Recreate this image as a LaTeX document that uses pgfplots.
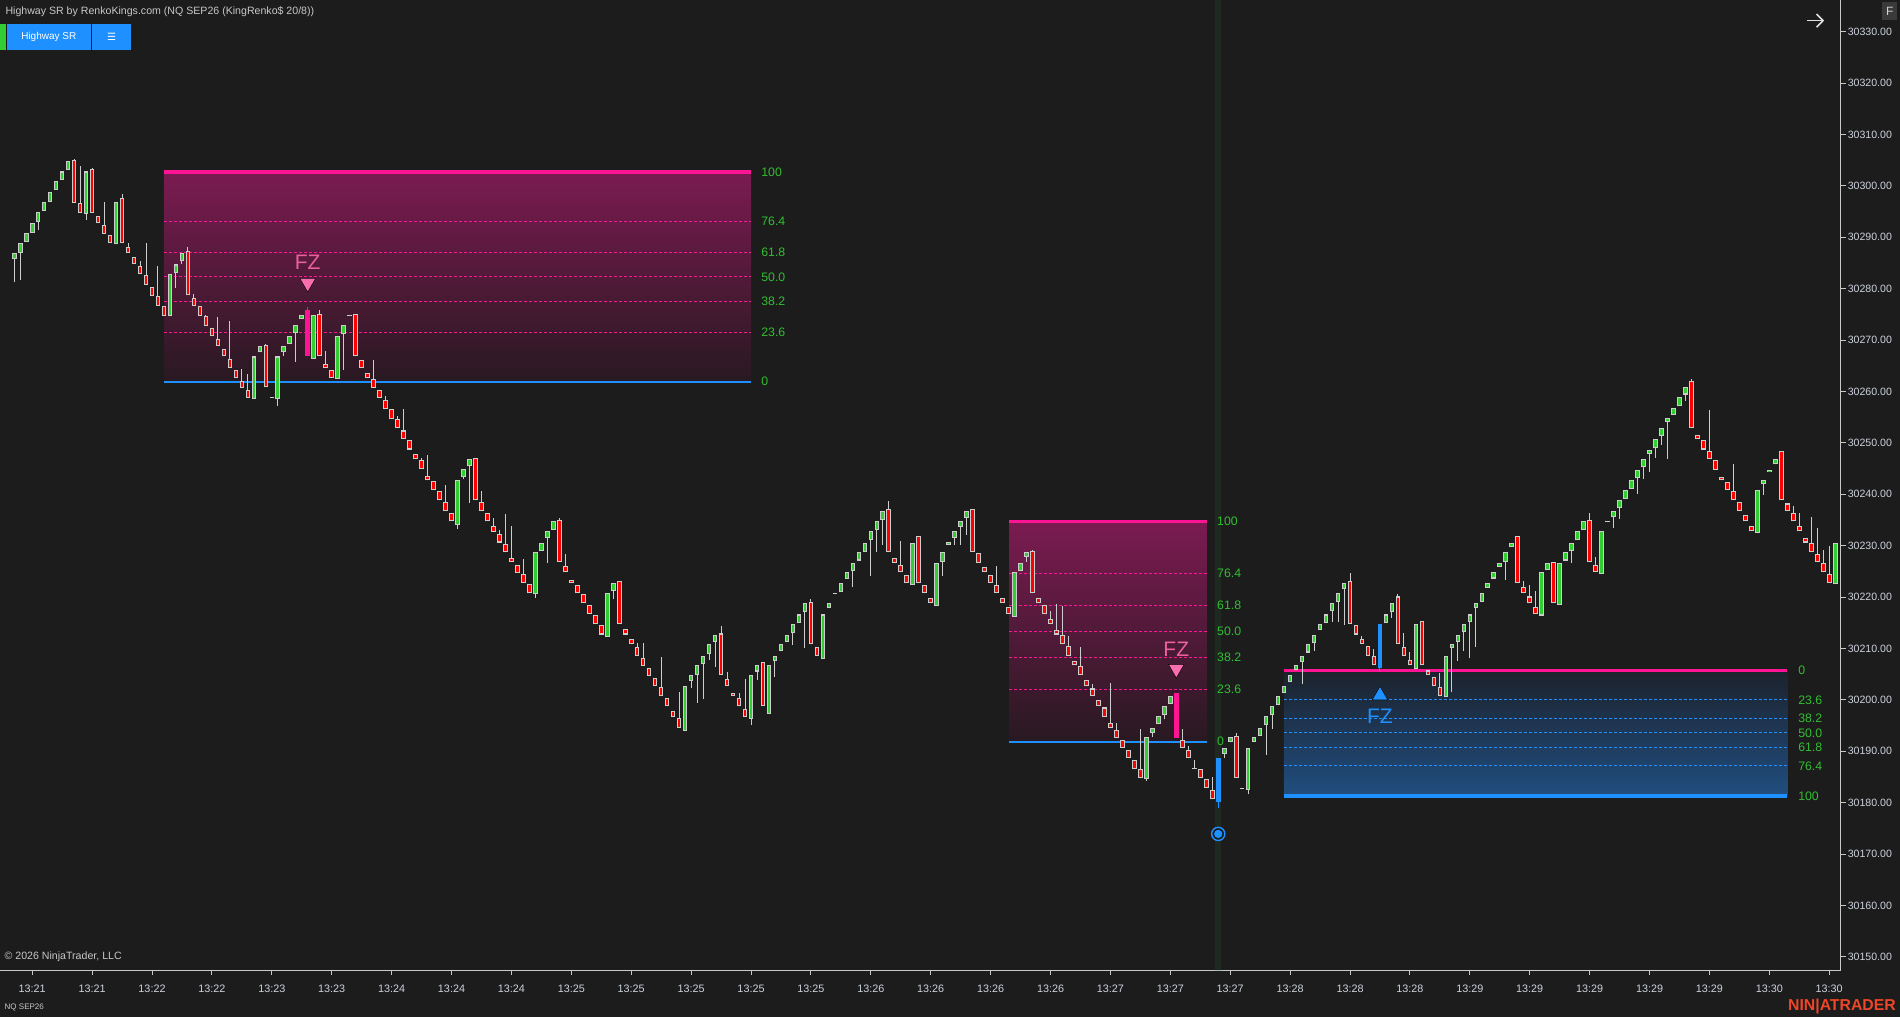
\documentclass[border=0pt]{standalone}
\usepackage{fontspec}
\setmainfont{Liberation Sans}
\newfontfamily\dejavu{DejaVu Sans}
\usepackage{pgfplots}
\usepackage{pgfplotstable}
\pgfplotsset{compat=1.18}

\definecolor{bg}{RGB}{28,28,28}
\definecolor{band}{RGB}{30,42,31}
\definecolor{gbar}{RGB}{50,205,50}
\definecolor{rbar}{RGB}{255,0,0}
\definecolor{bord}{RGB}{205,205,205}
\definecolor{dpink}{RGB}{255,20,147}
\definecolor{dblue}{RGB}{30,144,255}
\definecolor{lvl}{RGB}{50,190,50}
\definecolor{fzpink}{RGB}{236,96,160}
\definecolor{tripink}{RGB}{248,110,175}
\definecolor{axisc}{RGB}{200,200,200}
\definecolor{tickc}{RGB}{205,210,220}
\definecolor{titlec}{RGB}{200,200,200}
\definecolor{ninja}{RGB}{238,70,40}
\definecolor{bAtop}{RGB}{123,27,81}
\definecolor{bAmid}{RGB}{100,27,68}
\definecolor{bAbot}{RGB}{40,25,33}
\definecolor{bCtop}{RGB}{28,34,44}
\definecolor{bCmid}{RGB}{31,70,113}
\definecolor{bCbot}{RGB}{32,78,128}
\definecolor{fbox}{RGB}{58,58,58}

% x = bar index, lo/hi = body, wl/wh = wick, t: 0 red, 1 green, 2 doji, 3 pink signal, 4 blue signal
\pgfplotstableread{
x lo hi wl wh t
1 30285.7 30286.9 30281.2 30286.9 1
2 30287.0 30288.8 30281.7 30288.8 1
3 30289.0 30290.8 30289.0 30290.8 1
4 30290.9 30292.7 30290.9 30292.7 1
5 30293.0 30294.9 30291.4 30294.9 1
6 30295.2 30296.8 30295.2 30296.8 1
7 30296.9 30298.8 30296.9 30298.8 1
8 30299.2 30300.9 30299.2 30300.9 1
9 30301.2 30302.8 30301.2 30302.8 1
10 30303.0 30304.8 30303.0 30304.8 1
11 30296.7 30305.0 30296.7 30305.2 0
12 30294.8 30296.6 30294.8 30303.9 0
13 30294.5 30302.8 30293.4 30302.8 1
14 30294.8 30303.2 30294.8 30303.5 0
15 30292.7 30294.1 30292.7 30294.1 0
16 30290.7 30292.3 30290.7 30296.8 0
17 30288.8 30290.5 30288.8 30290.5 0
18 30288.6 30296.9 30288.6 30296.9 1
19 30288.8 30297.6 30288.8 30298.4 0
20 30286.9 30288.2 30286.9 30288.8 0
21 30284.7 30286.1 30284.7 30286.1 0
22 30282.8 30284.5 30282.8 30285.3 0
23 30280.8 30282.6 30280.8 30288.8 0
24 30278.6 30280.3 30278.6 30280.3 0
25 30276.7 30278.5 30276.7 30284.4 0
26 30274.7 30276.6 30274.7 30276.6 0
27 30274.6 30282.8 30274.6 30282.8 1
28 30283.0 30284.7 30280.2 30284.7 1
29 30285.3 30286.9 30284.8 30286.9 1
30 30278.7 30287.3 30278.7 30288.2 0
31 30276.7 30278.1 30276.7 30279.0 0
32 30274.7 30276.6 30274.7 30276.6 0
33 30272.8 30274.6 30272.8 30274.9 0
34 30270.7 30272.3 30270.7 30272.3 0
35 30268.8 30270.3 30268.8 30274.5 0
36 30266.8 30268.2 30266.8 30268.2 0
37 30264.6 30266.3 30264.6 30273.7 0
38 30262.7 30264.2 30262.7 30264.2 0
39 30260.7 30262.0 30260.7 30264.4 0
40 30258.8 30260.2 30258.8 30263.3 0
41 30258.5 30266.8 30258.5 30266.8 1
42 30267.6 30268.8 30267.6 30268.8 1
43 30260.8 30269.0 30260.8 30269.2 0
44 30258.8 30259.0 30258.8 30259.0 2
45 30258.5 30266.8 30257.2 30266.8 1
46 30267.7 30268.8 30266.9 30268.8 1
47 30269.3 30270.7 30269.3 30270.7 1
48 30271.3 30272.9 30265.8 30272.9 1
49 30274.0 30274.9 30274.0 30274.9 1
50 30266.8 30275.9 30266.8 30276.4 3
51 30266.4 30274.9 30266.4 30274.9 1
52 30266.8 30275.1 30266.8 30275.9 0
53 30264.6 30265.3 30264.6 30267.9 0
54 30262.7 30264.2 30262.7 30264.2 0
55 30262.5 30270.7 30262.5 30270.7 1
56 30271.1 30272.9 30264.2 30272.9 1
57 30274.7 30274.9 30274.7 30274.9 2
58 30266.8 30275.1 30266.8 30275.1 0
59 30264.6 30266.1 30264.6 30266.1 0
60 30262.7 30263.5 30262.7 30263.5 0
61 30260.7 30262.4 30260.7 30266.1 0
62 30258.8 30260.2 30258.8 30260.2 0
63 30256.6 30258.3 30256.6 30259.1 0
64 30254.7 30256.5 30254.7 30256.5 0
65 30252.8 30254.6 30252.8 30255.2 0
66 30250.7 30252.4 30250.7 30256.6 0
67 30248.7 30250.5 30248.7 30250.5 0
68 30246.8 30247.8 30246.8 30247.8 0
69 30244.9 30246.6 30244.9 30247.1 0
70 30242.7 30243.5 30242.7 30247.6 0
71 30240.8 30242.5 30240.8 30242.5 0
72 30238.8 30240.6 30238.8 30240.6 0
73 30236.7 30238.4 30236.7 30241.8 0
74 30234.7 30236.3 30234.7 30236.3 0
75 30234.0 30242.7 30233.2 30242.7 1
76 30243.4 30244.9 30243.0 30244.9 1
77 30245.4 30246.8 30238.2 30246.8 1
78 30238.8 30247.0 30238.8 30247.0 0
79 30236.7 30238.4 30236.7 30240.6 0
80 30234.7 30236.3 30234.7 30236.3 0
81 30232.7 30233.9 30232.7 30235.4 0
82 30230.6 30232.2 30230.6 30233.0 0
83 30228.7 30230.3 30228.7 30236.2 0
84 30226.8 30227.5 30226.8 30233.8 0
85 30224.7 30226.2 30224.7 30226.2 0
86 30222.7 30224.4 30222.7 30227.4 0
87 30220.7 30222.5 30220.7 30222.5 0
88 30220.5 30228.7 30219.9 30228.7 1
89 30228.9 30230.6 30228.9 30230.6 1
90 30231.4 30232.8 30226.7 30232.8 1
91 30233.0 30234.7 30233.0 30234.7 1
92 30226.8 30234.9 30226.8 30235.3 0
93 30224.8 30226.0 30224.8 30228.4 0
94 30222.7 30223.3 30222.7 30223.3 0
95 30220.7 30222.4 30220.7 30222.4 0
96 30218.8 30220.5 30218.8 30220.5 0
97 30216.7 30218.4 30216.7 30218.4 0
98 30214.8 30216.5 30214.8 30216.5 0
99 30212.7 30214.5 30212.7 30214.5 0
100 30212.2 30220.7 30212.2 30220.7 1
101 30221.2 30222.7 30219.7 30222.7 1
102 30214.7 30223.2 30214.7 30223.2 0
103 30212.7 30213.8 30212.7 30213.8 0
104 30210.8 30211.9 30210.8 30211.9 0
105 30208.6 30210.3 30208.6 30211.0 0
106 30206.6 30208.2 30206.6 30211.0 0
107 30204.7 30206.1 30204.7 30206.1 0
108 30202.6 30204.2 30202.6 30204.2 0
109 30200.7 30202.4 30200.7 30208.3 0
110 30198.7 30200.4 30198.7 30200.4 0
111 30196.7 30197.8 30196.7 30197.8 0
112 30194.6 30196.4 30194.6 30201.6 0
113 30193.9 30202.6 30193.9 30202.6 1
114 30203.7 30204.8 30202.2 30204.8 1
115 30204.9 30206.7 30199.4 30206.7 1
116 30206.9 30208.6 30200.2 30208.6 1
117 30209.0 30210.8 30207.7 30210.8 1
118 30211.3 30212.7 30206.4 30212.7 1
119 30204.8 30212.9 30204.8 30214.4 0
120 30202.6 30204.1 30202.6 30205.4 0
121 30200.7 30201.4 30200.7 30201.4 0
122 30198.7 30200.4 30198.7 30201.4 0
123 30196.7 30198.2 30196.7 30204.0 0
124 30196.3 30204.8 30195.0 30204.8 1
125 30205.5 30206.7 30203.8 30206.7 1
126 30198.7 30207.3 30198.7 30207.3 0
127 30197.2 30206.7 30197.2 30206.7 1
128 30207.5 30208.6 30204.4 30208.6 1
129 30209.4 30210.8 30209.4 30210.8 1
130 30211.2 30212.7 30211.2 30212.7 1
131 30212.9 30214.7 30210.7 30214.7 1
132 30214.9 30216.6 30214.9 30216.6 1
133 30217.1 30218.8 30210.1 30218.8 1
134 30210.8 30219.0 30210.8 30219.6 0
135 30208.6 30210.3 30208.6 30210.3 0
136 30207.9 30216.6 30207.9 30216.6 1
137 30217.8 30218.8 30217.8 30218.8 1
138 30220.5 30220.7 30220.5 30220.7 2
139 30220.9 30222.7 30220.9 30222.7 1
140 30223.5 30224.8 30223.5 30224.8 1
141 30225.1 30226.7 30221.9 30226.7 1
142 30227.1 30228.7 30227.1 30228.7 1
143 30228.8 30230.6 30228.8 30230.6 1
144 30231.0 30232.8 30224.0 30232.8 1
145 30233.0 30234.7 30228.8 30234.7 1
146 30235.0 30236.7 30230.2 30236.7 1
147 30228.7 30237.2 30228.7 30238.6 0
148 30226.7 30227.5 30226.7 30227.5 0
149 30224.8 30226.2 30224.8 30230.9 0
150 30222.7 30224.3 30222.7 30224.3 0
151 30222.3 30230.6 30222.3 30230.6 1
152 30222.7 30231.8 30222.7 30231.8 0
153 30220.7 30222.3 30220.7 30222.3 0
154 30218.8 30219.9 30218.8 30219.9 0
155 30218.2 30226.7 30218.2 30226.7 1
156 30226.9 30228.7 30224.1 30228.7 1
157 30230.2 30230.7 30230.2 30230.7 1
158 30231.4 30232.8 30230.1 30232.8 1
159 30233.7 30234.7 30230.2 30234.7 1
160 30235.4 30236.7 30232.1 30236.7 1
161 30228.7 30237.1 30228.7 30237.1 0
162 30226.7 30228.5 30226.7 30228.5 0
163 30224.8 30225.8 30224.8 30225.8 0
164 30222.7 30224.2 30222.7 30224.2 0
165 30220.7 30222.3 30220.7 30226.0 0
166 30218.8 30219.9 30218.8 30219.9 0
167 30216.6 30218.1 30216.6 30218.1 0
168 30216.2 30224.8 30216.2 30224.8 1
169 30225.0 30226.7 30225.0 30226.7 1
170 30227.8 30228.7 30226.9 30228.7 1
171 30220.7 30228.9 30220.7 30229.1 0
172 30218.8 30219.9 30218.8 30219.9 0
173 30216.6 30218.4 30216.6 30218.4 0
174 30214.7 30215.7 30214.7 30217.3 0
175 30212.7 30213.5 30212.7 30218.6 0
176 30210.8 30212.6 30210.8 30218.2 0
177 30208.6 30210.5 30208.6 30212.4 0
178 30206.7 30207.5 30206.7 30207.5 0
179 30204.8 30206.5 30204.8 30210.3 0
180 30202.6 30203.8 30202.6 30203.8 0
181 30200.7 30202.2 30200.7 30203.0 0
182 30198.7 30199.9 30198.7 30199.9 0
183 30196.7 30198.5 30196.7 30198.5 0
184 30194.6 30195.4 30194.6 30203.3 0
185 30192.6 30194.2 30192.6 30195.4 0
186 30190.7 30192.1 30190.7 30192.1 0
187 30188.6 30190.2 30188.6 30190.2 0
188 30186.6 30188.2 30186.6 30188.2 0
189 30184.7 30186.5 30184.7 30194.3 0
190 30184.5 30192.7 30184.1 30192.7 1
191 30193.6 30194.6 30192.8 30194.6 1
192 30195.2 30196.8 30195.2 30196.8 1
193 30197.0 30198.7 30196.2 30198.7 1
194 30199.1 30200.7 30199.1 30200.7 1
195 30192.6 30201.3 30192.6 30201.3 3
196 30190.7 30192.1 30190.7 30194.3 0
197 30188.6 30190.2 30188.6 30191.0 0
198 30186.6 30186.8 30186.6 30188.3 2
199 30184.7 30186.5 30184.7 30186.5 0
200 30182.8 30184.5 30182.8 30184.5 0
201 30180.6 30182.4 30180.6 30185.0 0
202 30180.2 30188.6 30178.9 30188.6 4
203 30189.4 30190.7 30188.6 30190.7 1
204 30191.7 30192.7 30191.7 30192.7 1
205 30184.7 30192.9 30184.7 30193.5 0
206 30182.7 30182.9 30182.7 30182.9 2
207 30182.4 30190.7 30181.6 30190.7 1
208 30191.7 30192.7 30191.7 30192.7 1
209 30192.9 30194.6 30192.9 30194.6 1
210 30195.0 30196.8 30189.3 30196.8 1
211 30197.0 30198.7 30194.4 30198.7 1
212 30198.9 30200.7 30198.9 30200.7 1
213 30201.3 30202.6 30201.3 30202.6 1
214 30203.4 30204.8 30203.4 30204.8 1
215 30205.7 30206.7 30205.7 30206.7 1
216 30207.4 30208.6 30203.1 30208.6 1
217 30209.2 30210.8 30209.2 30210.8 1
218 30211.0 30212.7 30209.4 30212.7 1
219 30213.5 30214.7 30213.5 30214.7 1
220 30214.9 30216.6 30214.9 30216.6 1
221 30217.3 30218.8 30215.2 30218.8 1
222 30219.0 30220.7 30215.2 30220.7 1
223 30221.5 30222.7 30214.6 30222.7 1
224 30214.7 30223.1 30214.7 30224.7 0
225 30212.7 30214.5 30212.7 30214.5 0
226 30210.9 30211.9 30210.9 30212.5 0
227 30208.6 30210.4 30208.6 30210.4 0
228 30206.7 30208.5 30206.7 30209.8 0
229 30206.1 30214.7 30205.5 30214.7 4
230 30214.9 30216.6 30214.9 30216.6 1
231 30217.0 30218.8 30216.0 30218.8 1
232 30210.8 30220.1 30210.8 30220.5 0
233 30208.6 30210.2 30208.6 30212.9 0
234 30206.7 30207.7 30206.7 30209.3 0
235 30205.9 30214.7 30205.9 30214.7 1
236 30206.7 30215.3 30206.7 30215.3 0
237 30204.8 30205.7 30204.8 30205.7 0
238 30202.6 30204.4 30202.6 30204.4 0
239 30200.7 30202.4 30200.7 30205.3 0
240 30200.5 30208.6 30200.5 30208.6 1
241 30210.0 30210.8 30201.6 30210.8 1
242 30211.2 30212.7 30207.6 30212.7 1
243 30213.1 30214.7 30209.4 30214.7 1
244 30215.1 30216.6 30208.2 30216.6 1
245 30217.8 30218.8 30210.3 30218.8 1
246 30219.1 30220.7 30219.1 30220.7 1
247 30221.8 30222.7 30221.8 30222.7 1
248 30223.6 30224.8 30223.6 30224.8 1
249 30225.8 30226.7 30225.8 30226.7 1
250 30226.9 30228.7 30223.4 30228.7 1
251 30229.7 30230.6 30229.7 30230.6 1
252 30222.7 30231.8 30222.7 30231.8 0
253 30220.7 30221.9 30220.7 30223.2 0
254 30218.8 30220.1 30218.8 30222.3 0
255 30216.6 30218.0 30216.6 30221.2 0
256 30216.4 30224.8 30216.4 30224.8 1
257 30225.3 30226.7 30225.3 30226.7 1
258 30218.8 30226.9 30218.8 30226.9 0
259 30218.4 30226.7 30218.4 30226.7 1
260 30227.1 30228.7 30227.1 30228.7 1
261 30228.9 30230.6 30226.6 30230.6 1
262 30231.0 30232.8 30231.0 30232.8 1
263 30233.0 30234.7 30233.0 30234.7 1
264 30226.8 30234.9 30226.8 30236.3 0
265 30224.8 30226.2 30224.8 30227.7 0
266 30224.4 30232.8 30224.4 30232.8 1
267 30234.6 30234.8 30234.6 30234.8 2
268 30235.5 30236.7 30233.5 30236.7 1
269 30237.3 30238.8 30235.2 30238.8 1
270 30239.0 30240.8 30239.0 30240.8 1
271 30241.0 30242.7 30241.0 30242.7 1
272 30243.1 30244.8 30240.1 30244.8 1
273 30245.2 30246.8 30243.0 30246.8 1
274 30247.8 30248.7 30244.4 30248.7 1
275 30248.9 30250.7 30247.1 30250.7 1
276 30251.4 30252.8 30249.6 30252.8 1
277 30254.0 30254.8 30246.9 30254.8 1
278 30255.4 30256.7 30255.4 30256.7 1
279 30257.1 30258.9 30257.1 30258.9 1
280 30259.4 30260.8 30258.2 30260.8 1
281 30252.8 30262.0 30252.8 30262.4 0
282 30250.7 30251.5 30250.7 30251.5 0
283 30248.7 30250.5 30248.7 30250.5 0
284 30246.8 30248.5 30246.8 30256.4 0
285 30244.8 30246.6 30244.8 30246.6 0
286 30242.7 30243.3 30242.7 30243.3 0
287 30240.8 30242.3 30240.8 30242.3 0
288 30238.8 30240.6 30238.8 30245.8 0
289 30236.7 30238.4 30236.7 30238.4 0
290 30234.7 30235.9 30234.7 30235.9 0
291 30232.8 30233.9 30232.8 30233.9 0
292 30232.4 30240.8 30232.4 30240.8 1
293 30241.9 30242.7 30239.8 30242.7 1
294 30244.3 30244.8 30244.3 30244.8 1
295 30245.8 30246.8 30245.8 30246.8 1
296 30238.8 30248.5 30238.8 30248.5 0
297 30236.7 30238.2 30236.7 30238.2 0
298 30234.7 30236.3 30234.7 30237.8 0
299 30232.8 30233.9 30232.8 30236.3 0
300 30230.6 30231.4 30230.6 30231.4 0
301 30228.7 30230.5 30228.7 30235.5 0
302 30226.8 30228.3 30226.8 30233.4 0
303 30224.8 30226.6 30224.8 30229.1 0
304 30222.7 30224.4 30222.7 30230.0 0
305 30222.5 30230.6 30222.5 30230.6 1
}\bars

\begin{document}
\begin{tikzpicture}
\fill[bg] (0pt,0pt) rectangle (1900pt,1017pt);
\useasboundingbox (0pt,0pt) rectangle (1900pt,1017pt);
\begin{axis}[
  at={(0pt,47pt)}, anchor=south west,
  scale only axis, width=1840.7pt, height=970pt,
  xmin=-1.376, xmax=305.92, ymin=30147.42, ymax=30336.17,
  axis x line*=bottom, axis y line*=right,
  axis line style={-, draw=axisc, line width=0.9pt},
  tick align=outside, major tick length=5pt,
  tick style={draw=axisc, line width=0.9pt},
  xtick={4,14,...,304},
  xticklabels={13:21,13:21,13:22,13:22,13:23,13:23,13:24,13:24,13:24,13:25,13:25,13:25,13:25,13:25,13:26,13:26,13:26,13:26,13:27,13:27,13:27,13:28,13:28,13:28,13:29,13:29,13:29,13:29,13:29,13:30,13:30},
  ytick={30150,30160,...,30330},
  yticklabels={30150.00,30160.00,30170.00,30180.00,30190.00,30200.00,30210.00,30220.00,30230.00,30240.00,30250.00,30260.00,30270.00,30280.00,30290.00,30300.00,30310.00,30320.00,30330.00},
  scaled y ticks=false,
  xticklabel style={font=\fontsize{10.8}{12}\selectfont, text=tickc, yshift=-6.5pt},
  yticklabel style={font=\fontsize{10.6}{12}\selectfont, text=tickc, xshift=-1.5pt},
  clip=true,
]
% highlighted column
\addplot[draw=none, fill=band] coordinates {(201.5,30147.42) (202.5,30147.42) (202.5,30336.17) (201.5,30336.17) (201.5,30147.42)};
% zone fills
\addplot[draw=none, top color=bAtop, middle color=bAmid, bottom color=bAbot] coordinates {(26,30261.9) (26,30302.7) (124,30302.7) (124,30261.9) (26,30261.9)};
\addplot[draw=none, top color=bAtop, middle color=bAmid, bottom color=bAbot] coordinates {(167.1,30191.85) (167.1,30234.7) (200.1,30234.7) (200.1,30191.85) (167.1,30191.85)};
\addplot[draw=none, top color=bCtop, middle color=bCmid, bottom color=bCbot] coordinates {(212.96,30181.3) (212.96,30205.7) (297,30205.7) (297,30181.3) (212.96,30181.3)};
% zone 1 lines
\addplot[dpink, line width=0.9pt, dash pattern=on 3pt off 2pt] coordinates {(26,30293.07) (124,30293.07)};
\addplot[dpink, line width=0.9pt, dash pattern=on 3pt off 2pt] coordinates {(26,30287.11) (124,30287.11)};
\addplot[dpink, line width=0.9pt, dash pattern=on 3pt off 2pt] coordinates {(26,30282.3) (124,30282.3)};
\addplot[dpink, line width=0.9pt, dash pattern=on 3pt off 2pt] coordinates {(26,30277.49) (124,30277.49)};
\addplot[dpink, line width=0.9pt, dash pattern=on 3pt off 2pt] coordinates {(26,30271.53) (124,30271.53)};
\addplot[dpink, line width=3.8pt] coordinates {(26,30302.7) (124,30302.7)};
\addplot[dblue, line width=2.2pt] coordinates {(26,30261.9) (124,30261.9)};
% zone 2 lines
\addplot[dpink, line width=0.9pt, dash pattern=on 3pt off 2pt] coordinates {(167.1,30224.59) (200.1,30224.59)};
\addplot[dpink, line width=0.9pt, dash pattern=on 3pt off 2pt] coordinates {(167.1,30218.33) (200.1,30218.33)};
\addplot[dpink, line width=0.9pt, dash pattern=on 3pt off 2pt] coordinates {(167.1,30213.28) (200.1,30213.28)};
\addplot[dpink, line width=0.9pt, dash pattern=on 3pt off 2pt] coordinates {(167.1,30208.22) (200.1,30208.22)};
\addplot[dpink, line width=0.9pt, dash pattern=on 3pt off 2pt] coordinates {(167.1,30201.96) (200.1,30201.96)};
\addplot[dpink, line width=3.8pt] coordinates {(167.1,30234.7) (200.1,30234.7)};
\addplot[dblue, line width=2.2pt] coordinates {(167.1,30191.85) (200.1,30191.85)};
% zone 3 lines
\addplot[dblue, line width=0.9pt, dash pattern=on 3pt off 2pt] coordinates {(212.96,30200.0) (297,30200.0)};
\addplot[dblue, line width=0.9pt, dash pattern=on 3pt off 2pt] coordinates {(212.96,30196.44) (297,30196.44)};
\addplot[dblue, line width=0.9pt, dash pattern=on 3pt off 2pt] coordinates {(212.96,30193.55) (297,30193.55)};
\addplot[dblue, line width=0.9pt, dash pattern=on 3pt off 2pt] coordinates {(212.96,30190.7) (297,30190.7)};
\addplot[dblue, line width=0.9pt, dash pattern=on 3pt off 2pt] coordinates {(212.96,30187.15) (297,30187.15)};
\addplot[dpink, line width=2.2pt] coordinates {(212.96,30205.7) (297,30205.7)};
\addplot[dblue, line width=3.8pt] coordinates {(212.96,30181.3) (297,30181.3)};
% wicks
\addplot[bord, line width=1pt, quiver={u=0, v={\thisrow{wh}-\thisrow{wl}}}, restrict expr to domain={\thisrow{t}}{0:2}] table[x=x, y=wl] {\bars};
\addplot[dpink, line width=1pt, quiver={u=0, v={\thisrow{wh}-\thisrow{wl}}}, restrict expr to domain={\thisrow{t}}{3:3}] table[x=x, y=wl] {\bars};
\addplot[dblue, line width=1pt, quiver={u=0, v={\thisrow{wh}-\thisrow{wl}}}, restrict expr to domain={\thisrow{t}}{4:4}] table[x=x, y=wl] {\bars};
% bodies: border
\addplot[bord, line width=4.6pt, quiver={u=0, v={\thisrow{hi}-\thisrow{lo}}}, restrict expr to domain={\thisrow{t}}{0:2}] table[x=x, y=lo] {\bars};
% bodies: fill
\addplot[rbar, line width=2.6pt, quiver={u=0, v={max(\thisrow{hi}-\thisrow{lo}-0.4,0)}}, restrict expr to domain={\thisrow{t}}{0:0}] table[x=x, y expr=\thisrow{lo}+0.2] {\bars};
\addplot[gbar, line width=2.6pt, quiver={u=0, v={max(\thisrow{hi}-\thisrow{lo}-0.4,0)}}, restrict expr to domain={\thisrow{t}}{1:1}] table[x=x, y expr=\thisrow{lo}+0.2] {\bars};
\addplot[dpink, line width=4.6pt, quiver={u=0, v={\thisrow{hi}-\thisrow{lo}}}, restrict expr to domain={\thisrow{t}}{3:3}] table[x=x, y=lo] {\bars};
\addplot[dblue, line width=4.6pt, quiver={u=0, v={\thisrow{hi}-\thisrow{lo}}}, restrict expr to domain={\thisrow{t}}{4:4}] table[x=x, y=lo] {\bars};
% signal markers
\addplot[only marks, mark=triangle*, mark size=9pt, mark options={rotate=180, fill=tripink, draw=none}] coordinates {(50,30281.1) (195,30206.0)};
\addplot[only marks, mark=triangle*, mark size=9pt, mark options={fill=dblue, draw=none}] coordinates {(229,30200.85)};
\addplot[only marks, mark=*, mark size=6.6pt, mark options={draw=dblue, fill=bg, line width=1.4pt}] coordinates {(202,30173.9)};
\addplot[only marks, mark=*, mark size=4.6pt, mark options={draw=none, fill=dblue}] coordinates {(202,30173.9)};
\node[text=fzpink, font=\fontsize{21}{21}\selectfont] at (axis cs:50,30285.1) {FZ};
\node[text=fzpink, font=\fontsize{21}{21}\selectfont] at (axis cs:195,30209.9) {FZ};
\node[text=dblue, font=\fontsize{21}{21}\selectfont] at (axis cs:229,30196.7) {FZ};
% level labels
\begin{scope}[every node/.style={anchor=west, inner sep=0pt, text=lvl, font=\fontsize{12.3}{13}\selectfont}]
\node at (axis cs:125.7,30302.7) {100};
\node at (axis cs:125.7,30293.07) {76.4};
\node at (axis cs:125.7,30287.11) {61.8};
\node at (axis cs:125.7,30282.3) {50.0};
\node at (axis cs:125.7,30277.49) {38.2};
\node at (axis cs:125.7,30271.53) {23.6};
\node at (axis cs:125.7,30261.9) {0};
\node at (axis cs:201.8,30234.7) {100};
\node at (axis cs:201.8,30224.59) {76.4};
\node at (axis cs:201.8,30218.33) {61.8};
\node at (axis cs:201.8,30213.28) {50.0};
\node at (axis cs:201.8,30208.22) {38.2};
\node at (axis cs:201.8,30201.96) {23.6};
\node at (axis cs:201.8,30191.85) {0};
\node at (axis cs:298.8,30205.7) {0};
\node at (axis cs:298.8,30200.0) {23.6};
\node at (axis cs:298.8,30196.44) {38.2};
\node at (axis cs:298.8,30193.55) {50.0};
\node at (axis cs:298.8,30190.7) {61.8};
\node at (axis cs:298.8,30187.15) {76.4};
\node at (axis cs:298.8,30181.3) {100};
\end{scope}
\end{axis}
% overlays
\node[anchor=west, inner sep=0pt, text=titlec, font=\fontsize{10.6}{12}\selectfont] at (5.3pt,1005.3pt) {Highway SR by RenkoKings.com (NQ SEP26 (KingRenko\$ 20/8))};
\fill[gbar] (0pt,967pt) rectangle (6pt,993pt);
\fill[dblue] (7pt,967pt) rectangle (90.7pt,993pt);
\fill[dblue] (92pt,967pt) rectangle (131pt,993pt);
\node[text=white, inner sep=0pt, font=\fontsize{10}{12}\selectfont] at (48.8pt,980pt) {Highway SR};
\node[text=white, inner sep=0pt, font=\dejavu\fontsize{10}{12}\selectfont] at (111.5pt,980pt) {☰};
\draw[white!88!black, line width=1.6pt] (1807pt,996.4pt) -- (1823pt,996.4pt);
\draw[white!88!black, line width=1.6pt] (1816.5pt,1003pt) -- (1823pt,996.4pt) -- (1816.5pt,989.8pt);
\fill[fbox] (1882.3pt,997pt) rectangle (1897.3pt,1015.3pt);
\node[text=white!82!black, inner sep=0pt, font=\fontsize{12}{12}\selectfont] at (1889.8pt,1006pt) {F};
\node[anchor=west, inner sep=0pt, text=titlec, font=\fontsize{10.6}{12}\selectfont] at (4.5pt,60.3pt) {© 2026 NinjaTrader, LLC};
\node[anchor=west, inner sep=0pt, text=titlec, font=\fontsize{8}{10}\selectfont] at (4.5pt,9.3pt) {NQ SEP26};
\node[anchor=east, inner sep=0pt, text=ninja, font=\bfseries\fontsize{15.8}{16}\selectfont] at (1896pt,10.3pt) {NIN|ATRADER};
\end{tikzpicture}
\end{document}
